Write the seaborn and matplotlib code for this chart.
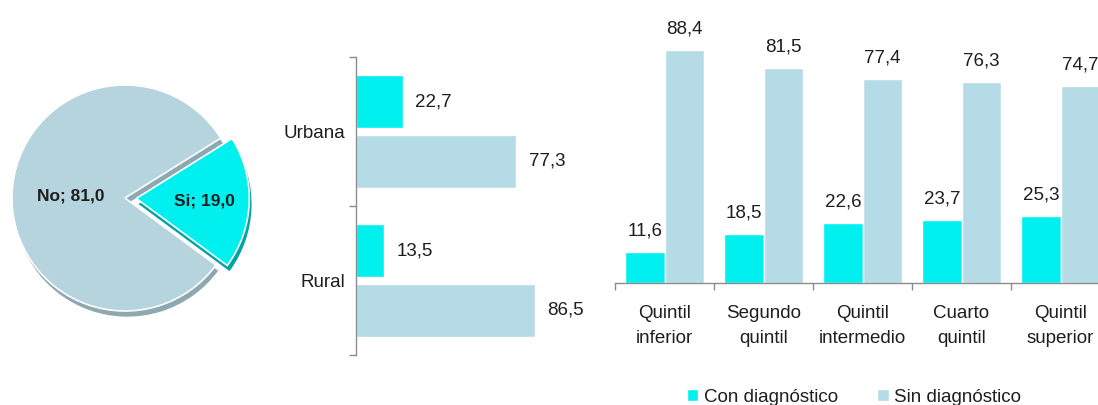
import matplotlib
matplotlib.use("Agg")
import matplotlib.pyplot as plt
import seaborn as sns
import pandas as pd
import numpy as np

sns.set_theme(style="white")
plt.rcParams["font.family"] = ["Liberation Sans", "DejaVu Sans"]

# ---- data -------------------------------------------------------------
pie_labels = ["No", "Si"]
pie_values = [81.0, 19.0]

zonas = ["Urbana", "Rural"]
zona_con = [22.7, 13.5]
zona_sin = [77.3, 86.5]

quintiles = ["Quintil\ninferior", "Segundo\nquintil", "Quintil\nintermedio",
             "Cuarto\nquintil", "Quintil\nsuperior"]
quintil_con = [11.6, 18.5, 22.6, 23.7, 25.3]
quintil_sin = [88.4, 81.5, 77.4, 76.3, 74.7]

grupos = ["Con diagnóstico", "Sin diagnóstico"]

# ---- style -------------------------------------------------------------
CYAN = "#00EFEF"
LIGHT = "#B5DCE6"
PIE_NO = "#B6D4DE"
PIE_NO_DARK = "#8EA8B1"
PIE_SI_DARK = "#00A4A4"
AXIS = "#8C8C8C"
TXT = "#1E1E1E"
FS = 13.5

W, H = 1098, 405
fig = plt.figure(figsize=(W / 100, H / 100), dpi=100)
fig.patch.set_facecolor("white")


def px_axes(x0, y0, x1, y1):
    return fig.add_axes([x0 / W, 1 - y1 / H, (x1 - x0) / W, (y1 - y0) / H])


def fmt_es(v):
    return f"{v:.1f}".replace(".", ",")


# ---- pie with a thick edge --------------------------------------------
ax_pie = px_axes(0, 70, 260, 330)
start = 32
explode = [0, 0.1]
ax_pie.pie(pie_values, colors=[PIE_NO_DARK, PIE_SI_DARK], startangle=start,
           explode=explode, center=(0.02, -0.05),
           wedgeprops=dict(linewidth=0))
wedges, _ = ax_pie.pie(pie_values, colors=[PIE_NO, CYAN], startangle=start,
                       explode=explode,
                       wedgeprops=dict(edgecolor="white", linewidth=1.2))
for w, lab, val, d in zip(wedges, pie_labels, pie_values, [0.48, 0.6]):
    th = np.deg2rad((w.theta1 + w.theta2) / 2)
    cx, cy = w.center
    ax_pie.text(cx + d * np.cos(th), cy + d * np.sin(th), f"{lab}; {fmt_es(val)}",
                ha="center", va="center", fontsize=12.5, fontweight="bold", color=TXT)
r_px, pcx, pcy = 113, 125, 198
ax_pie.set_xlim(-pcx / r_px, (260 - pcx) / r_px)
ax_pie.set_ylim(-(330 - pcy) / r_px, (pcy - 70) / r_px)
ax_pie.axis("off")

# ---- horizontal bars by area -------------------------------------------
df_zona = pd.DataFrame({
    "zona": zonas * 2,
    "grupo": [grupos[0]] * len(zonas) + [grupos[1]] * len(zonas),
    "valor": zona_con + zona_sin,
})
ax_z = px_axes(356, 57, 563, 355)
sns.barplot(data=df_zona, x="valor", y="zona", hue="grupo", orient="h",
            palette=[CYAN, LIGHT], width=0.8, gap=0.12, errorbar=None,
            saturation=1, legend=False, ax=ax_z)
ax_z.set_xlim(0, 100)
ax_z.set_ylim(len(zonas) - 0.5, -0.5)
for c in ax_z.containers:
    ax_z.bar_label(c, fmt=fmt_es, padding=9, fontsize=FS, color=TXT)
ax_z.set_yticks(np.arange(len(zonas) + 1) - 0.5)
ax_z.set_yticklabels([])
ax_z.set_yticks(np.arange(len(zonas)), minor=True)
ax_z.set_yticklabels(zonas, minor=True)
ax_z.tick_params(axis="y", which="major", length=5, width=1, color=AXIS, direction="out", left=True)
ax_z.tick_params(axis="y", which="minor", length=0, pad=8, labelsize=FS, labelcolor=TXT)
ax_z.set_xticks([])
ax_z.set_xlabel("")
ax_z.set_ylabel("")
for s in ["top", "right", "bottom"]:
    ax_z.spines[s].set_visible(False)
ax_z.spines["left"].set_color(AXIS)
ax_z.spines["left"].set_linewidth(1)

# ---- vertical bars by wealth quintile ----------------------------------
df_q = pd.DataFrame({
    "quintil": quintiles * 2,
    "grupo": [grupos[0]] * len(quintiles) + [grupos[1]] * len(quintiles),
    "valor": quintil_con + quintil_sin,
})
ax_q = px_axes(615, 19, 1110, 283)
sns.barplot(data=df_q, x="quintil", y="valor", hue="grupo",
            palette=[CYAN, LIGHT], width=0.79, errorbar=None,
            saturation=1, ax=ax_q)
ax_q.set_ylim(0, 100)
ax_q.set_xlim(-0.5, len(quintiles) - 0.5)
for c in ax_q.containers:
    ax_q.bar_label(c, fmt=fmt_es, padding=9, fontsize=FS, color=TXT)
ax_q.set_xticks(np.arange(len(quintiles) + 1) - 0.5)
ax_q.set_xticklabels([])
ax_q.set_xticks(np.arange(len(quintiles)), minor=True)
ax_q.set_xticklabels(quintiles, minor=True, linespacing=1.6)
ax_q.tick_params(axis="x", which="major", length=5, width=1, color=AXIS, direction="out", bottom=True)
ax_q.tick_params(axis="x", which="minor", length=0, pad=16, labelsize=FS, labelcolor=TXT)
ax_q.set_yticks([])
ax_q.set_xlabel("")
ax_q.set_ylabel("")
for s in ["top", "right", "left"]:
    ax_q.spines[s].set_visible(False)
ax_q.spines["bottom"].set_color(AXIS)
ax_q.spines["bottom"].set_linewidth(1)

handles, labels = ax_q.get_legend_handles_labels()
ax_q.legend_.remove()
fig.legend(handles, labels, loc="center", bbox_to_anchor=(854 / W, 1 - 397 / H),
           ncol=2, frameon=False, handlelength=0.6, handleheight=0.6,
           handletextpad=0.3, columnspacing=2.1, fontsize=FS, labelcolor=TXT)

fig.savefig("out.png", dpi=100, facecolor="white")
